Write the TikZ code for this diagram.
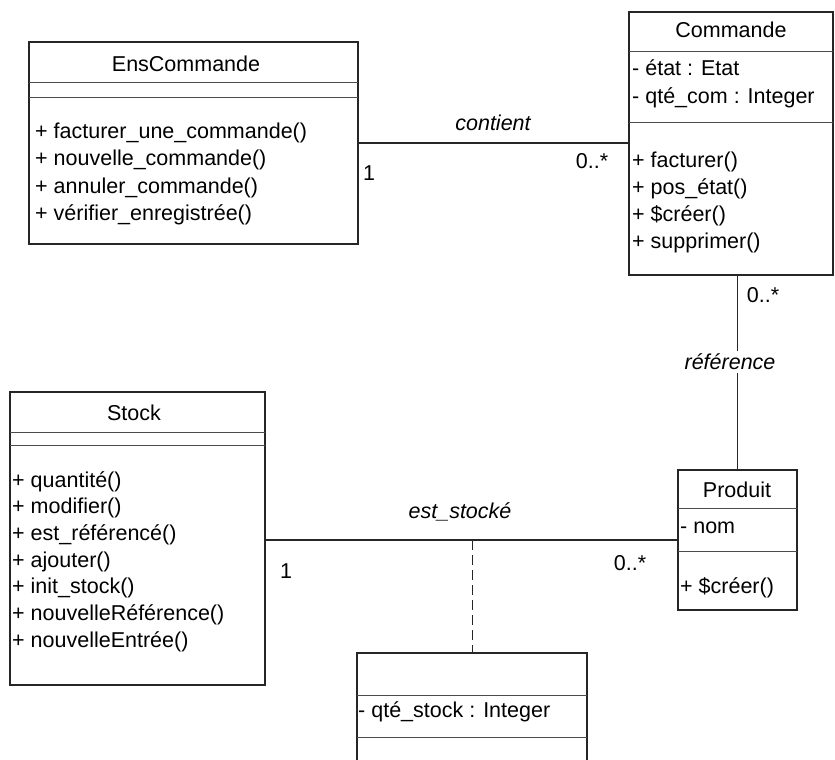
\documentclass[tikz,border=0pt]{standalone}
\usepackage{fontspec}
\setmainfont{Liberation Sans}
\begin{document}
\begin{tikzpicture}[x=1pt,y=-1pt,
  box/.style={draw=black!85,line width=1.1pt,anchor=north west,inner sep=0pt,outer sep=0pt},
  sep/.style={draw=black!70,line width=1pt},
  txt/.style={inner sep=0pt,anchor=base west,font=\fontsize{21.5}{26}\selectfont},
  ttl/.style={inner sep=0pt,anchor=base,font=\fontsize{21.5}{26}\selectfont},
  lbl/.style={inner sep=0pt,font=\fontsize{21.5}{26}\selectfont},
  rolename/.style={inner sep=0pt,font=\fontsize{21.5}{26}\selectfont\itshape},
  link/.style={draw=black!85,line width=1.1pt}]
\clip (0,0) rectangle (835,760);

% ---------- EnsCommande ----------
\node[box,minimum width=329,minimum height=202] (ens) at (29,42) {};
\draw[sep] (ens.west |- 0,82) -- (ens.east |- 0,82);
\draw[sep] (ens.west |- 0,97) -- (ens.east |- 0,97);
\node[ttl] (enst) at (186,71) {EnsCommande};
\foreach \t [count=\i] in {{+ facturer\_une\_commande()},{+ nouvelle\_commande()},
    {+ annuler\_commande()},{+ vérifier\_enregistrée()}}
  \node[txt] (ensm\i) at (35,{138+27.5*(\i-1)}) {\t};

% ---------- Commande ----------
\node[box,minimum width=204,minimum height=263] (cmd) at (629,12) {};
\draw[sep] (cmd.west |- 0,52) -- (cmd.east |- 0,52);
\draw[sep] (cmd.west |- 0,122) -- (cmd.east |- 0,122);
\node[ttl] (cmdt) at (731,38) {Commande};
\node[txt] (cmda1) at (632,75) {- état : Etat};
\node[txt] (cmda2) at (632,103) {- qté\_com : Integer};
\foreach \t [count=\i] in {{+ facturer()},{+ pos\_état()},{+ \$créer()},{+ supprimer()}}
  \node[txt] (cmdm\i) at (632,{167+27*(\i-1)}) {\t};

% ---------- Stock ----------
\node[box,minimum width=255,minimum height=293] (stk) at (10,392) {};
\draw[sep] (stk.west |- 0,432) -- (stk.east |- 0,432);
\draw[sep] (stk.west |- 0,445) -- (stk.east |- 0,445);
\node[ttl] (stkt) at (134,420) {Stock};
\foreach \t [count=\i] in {{+ quantité()},{+ modifier()},{+ est\_référencé()},{+ ajouter()},
    {+ init\_stock()},{+ nouvelleRéférence()},{+ nouvelleEntrée()}}
  \node[txt] (stkm\i) at (12,{487+26.67*(\i-1)}) {\t};

% ---------- Produit ----------
\node[box,minimum width=119,minimum height=140] (prd) at (678,470) {};
\draw[sep] (prd.west |- 0,508) -- (prd.east |- 0,508);
\draw[sep] (prd.west |- 0,551) -- (prd.east |- 0,551);
\node[ttl] (prdt) at (737,497) {Produit};
\node[txt] (prda1) at (680,533) {- nom};
\node[txt] (prdm1) at (680,593) {+ \$créer()};

% ---------- association class ----------
\node[box,minimum width=230,minimum height=140] (asc) at (357,653) {};
\draw[sep] (asc.west |- 0,695) -- (asc.east |- 0,695);
\draw[sep] (asc.west |- 0,737) -- (asc.east |- 0,737);
\node[txt] (asca1) at (358,717) {- qté\_stock : Integer};

% ---------- associations ----------
% contient
\draw[link] (ens.east) -- (ens.east -| cmd.west);
\node[rolename] (contient) at (493,123) {contient};
\node[lbl] (m1) at (369,173) {1};
\node[lbl] (m2) at (592,161) {0..*};

% référence
\node[rolename,fill=white,inner ysep=3pt] (ref) at (730,362) {référence};
\draw[link] (prd.north) -- (prd.north |- ref.south);
\draw[link] (prd.north |- ref.north) -- (prd.north |- cmd.south);
\node[lbl] (m3) at (763,295) {0..*};

% est_stocké
\draw[link] (prd.west -| stk.east) -- (prd.west);
\coordinate (mid) at (asc.north |- prd.west);
\draw[draw=black!85,line width=1pt,dash pattern=on 10pt off 5pt] (mid) -- (asc.north);
\node[rolename] (stocke) at (460,512) {est\_stocké};
\node[lbl] (m4) at (286,571) {1};
\node[lbl] (m5) at (630,563) {0..*};
\end{tikzpicture}
\end{document}
